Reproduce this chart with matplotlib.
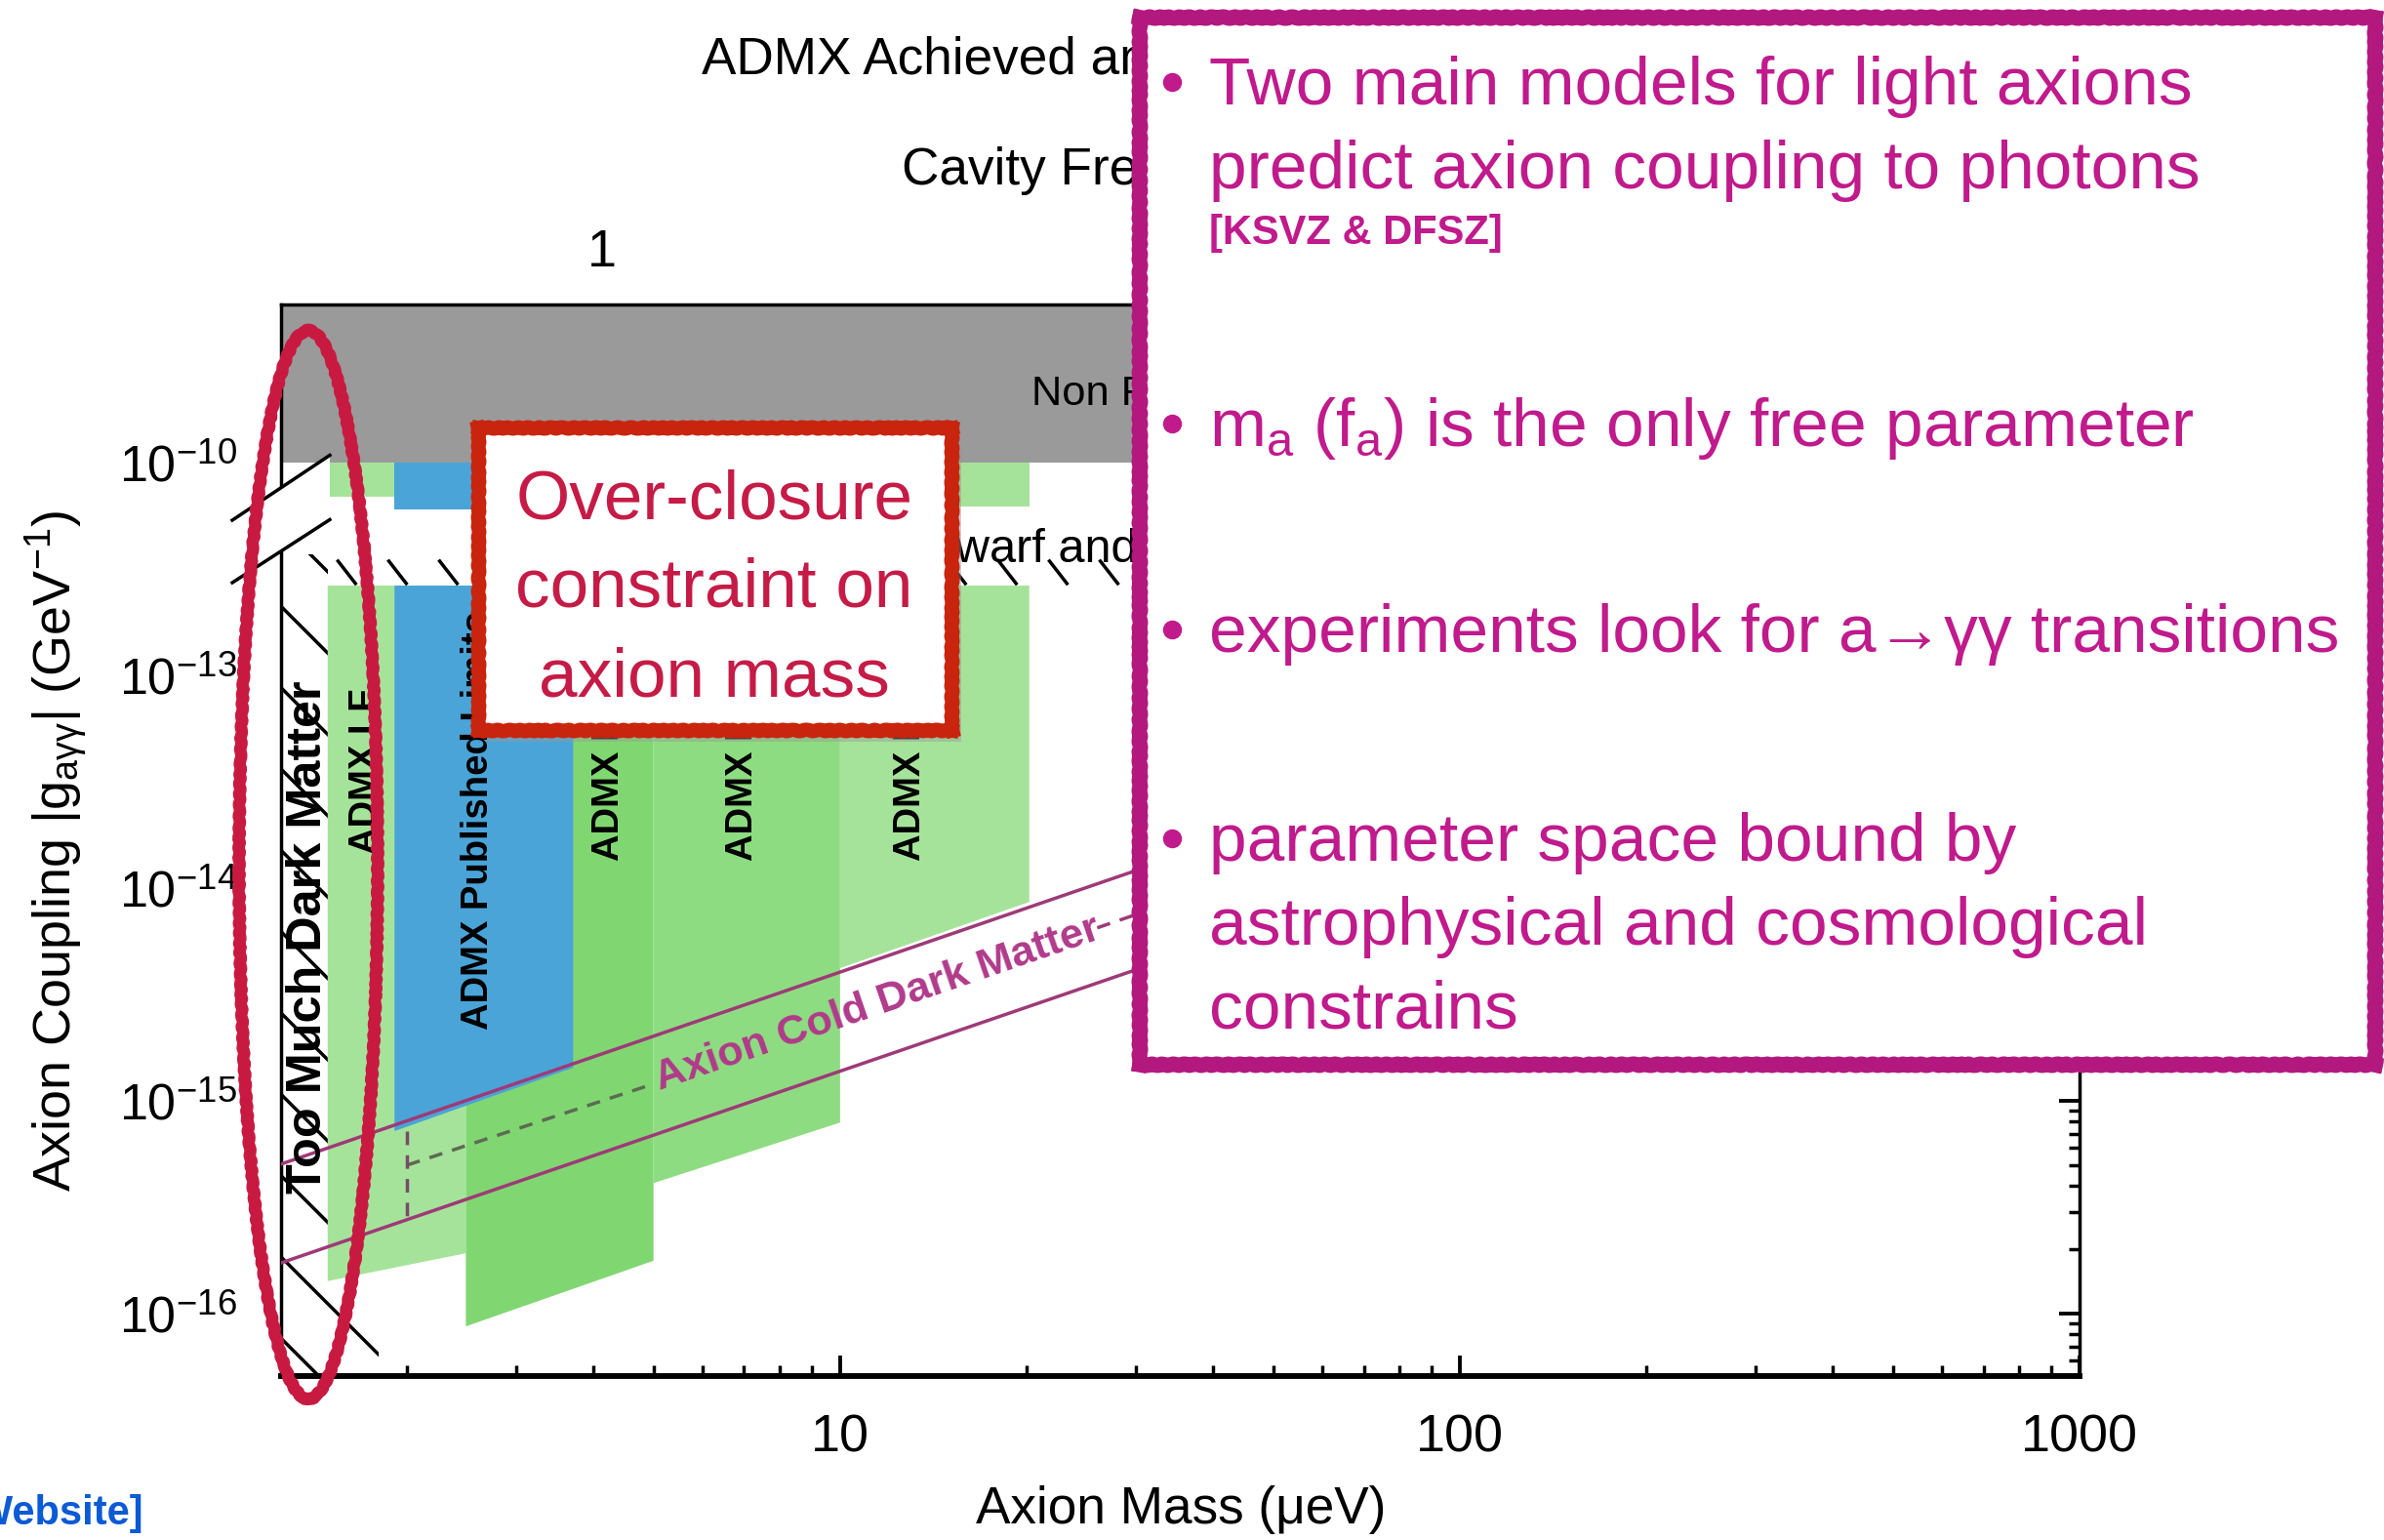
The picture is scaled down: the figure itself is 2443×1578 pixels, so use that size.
import numpy as np
import matplotlib.pyplot as plt
from matplotlib.patches import Rectangle, Ellipse, Polygon
from matplotlib.lines import Line2D
from matplotlib.ticker import FixedLocator, FixedFormatter, FuncFormatter, NullFormatter, LogLocator

plt.rcParams['font.family'] = ['Liberation Sans', 'DejaVu Sans']
plt.rcParams['mathtext.fontset'] = 'custom'
plt.rcParams['mathtext.rm'] = 'Liberation Sans'
plt.rcParams['mathtext.it'] = 'Liberation Sans:italic'
plt.rcParams['mathtext.bf'] = 'Liberation Sans:bold'
plt.rcParams['hatch.linewidth'] = 1.0

# ---- data (mass in ueV, coupling in GeV^-1) ----
mass_lim = [1.253, 1000]
band_names = ["ADMX LF", "ADMX Run 1B", "ADMX Run 1C", "ADMX Run 1D", "ADMX Published Limits"]
band_m_lo = [1.49, 2.49, 5.0, 10.0, 1.91]
band_m_hi = [2.49, 5.0, 10.0, 20.2, 3.71]
band_g_top = [2.64e-13, 2.64e-13, 2.64e-13, 2.64e-13, 2.64e-13]
band_g_bot_lo = [1.42e-16, 8.7e-17, 4.1e-16, 4.2e-15, 7.2e-16]
band_g_bot_hi = [1.92e-16, 1.77e-16, 7.9e-16, 8.6e-15, 1.43e-15]
# parts of the bands above the axis break
stub_g_top = [1.0e-10, 1.0e-10, 1.0e-10, 1.0e-10, 1.0e-10]
stub_g_bot = [6.9e-11, 6.2e-11, 6.2e-11, 6.2e-11, 6.0e-11]
label_m = [1.72, 4.24, 6.97, 13.0, 2.61]
label_g = [1.44e-14, 1.35e-14, 1.35e-14, 1.35e-14, 2.16e-15]

nonpert_g = [1.0e-10, 1.0e-7]
too_much_dm_m = [1.20, 1.80, 1.80, 1.49, 1.49, 1.20]
too_much_dm_g = [1e-17, 1e-17, 1.5e-16, 1.5e-16, 3.7e-13, 3.7e-13]
hb_limit_g = 2.64e-13

ksvz_m = [1.253, 40.0]
ksvz_g = [5.04e-16, 1.61e-14]
dfsz_m = [1.253, 40.0]
dfsz_g = [1.73e-16, 5.5e-15]
proj_m1 = [2.0, 5.0]
proj_g1 = [4.98e-16, 1.2e-15]
proj_m2 = [26.0, 40.0]
proj_g2 = [6.5e-15, 1.0e-14]
proj_vert_m = [2.0, 2.0]
proj_vert_g = [7.2e-16, 2.82e-16]
cdm_label_m = 11.5
cdm_label_g = 2.86e-15

ytick_exp = [-16, -15, -14, -13, -10]


def brk(g):
    # couplings above the axis break are drawn two decades lower
    g = np.asarray(g, dtype=float)
    return np.where(g >= 1e-11, g / 100.0, g)


W, H, DPI = 2443, 1578, 250
fig = plt.figure(figsize=(W / DPI, H / DPI), dpi=DPI)
ax = fig.add_axes([288 / W, (H - 1410) / H, (2131 - 288) / W, (1410 - 312) / H])
ax.set_xscale('log')
ax.set_yscale('log')
ax.set_xlim(mass_lim)
ax.set_ylim(10 ** -16.294, 10 ** -11.257)

band_colors = ['#a6e39a', '#80d771', '#8edc81', '#a6e39a', '#4aa4d7']

# too much dark matter hatch
ax.fill(too_much_dm_m, too_much_dm_g, facecolor='none', edgecolor='black',
        hatch='\\', linewidth=0, zorder=1)

# gray non perturbative region
ax.fill([0.5, 2000, 2000, 0.5], brk([nonpert_g[0]] * 2 + [nonpert_g[1]] * 2),
        color='#9a9a9a', linewidth=0, zorder=2)

for i in range(len(band_names)):
    xs = [band_m_lo[i], band_m_hi[i], band_m_hi[i], band_m_lo[i]]
    ys = [band_g_bot_lo[i], band_g_bot_hi[i], band_g_top[i], band_g_top[i]]
    ax.fill(xs, brk(ys), color=band_colors[i], linewidth=0, zorder=3)
    ax.fill(xs, brk([stub_g_bot[i], stub_g_bot[i], stub_g_top[i], stub_g_top[i]]),
            color=band_colors[i], linewidth=0, zorder=3)
    ax.text(label_m[i], label_g[i], band_names[i], rotation=90, ha='center', va='bottom',
            fontsize=11, fontweight='bold', color='black', zorder=6)

ax.text(1.387, 3.66e-16, 'Too Much Dark Matter', rotation=90, ha='center', va='bottom',
        fontsize=14.5, fontweight='bold', color='black', zorder=6)

# horizontal branch / white dwarf limit ticks along the top of the bands
for lm in np.arange(0.19, 1.6, 0.082):
    ax.plot([10 ** lm, 10 ** (lm + 0.028)], [hb_limit_g * 10 ** 0.115, hb_limit_g * 10 ** 0.01],
            color='black', lw=1.0, zorder=4)

ax.text(20.4, brk(1.86e-10), 'Non Perturbative', fontsize=12.5, ha='left', va='baseline', zorder=6)
ax.text(8.2, 3.4e-13, 'White Dwarf and Red Giant', fontsize=14, ha='left', va='baseline', zorder=6)

# axion dark matter models
line_col = '#9e3a78'
ax.plot(ksvz_m, ksvz_g, color=line_col, lw=1.0, zorder=5)
ax.plot(dfsz_m, dfsz_g, color=line_col, lw=1.0, zorder=5)
ax.plot(proj_m1, proj_g1, color='#5d6b52', lw=1.0, ls=(0, (4, 3)), zorder=5)
ax.plot(proj_m2, proj_g2, color='#9e3a78', lw=1.0, ls=(0, (4, 3)), zorder=5)
ax.plot(proj_vert_m, proj_vert_g, color='#7a4a6a', lw=1.0, ls=(0, (4, 3)), zorder=5)

p1 = ax.transData.transform((ksvz_m[0], ksvz_g[0]))
p2 = ax.transData.transform((ksvz_m[1], ksvz_g[1]))
ang = np.degrees(np.arctan2(p2[1] - p1[1], p2[0] - p1[0]))
ax.text(cdm_label_m, cdm_label_g, 'Axion Cold Dark Matter', rotation=ang, rotation_mode='anchor',
        ha='center', va='center', fontsize=12.5, fontweight='bold', color='#b13a8b', zorder=6)

# axes styling
for side in ['left', 'right', 'top']:
    ax.spines[side].set_linewidth(1.0)
ax.spines['bottom'].set_linewidth(1.7)
ax.tick_params(axis='both', which='both', direction='in', top=False, left=False, right=True)
ax.tick_params(axis='x', labelsize=15.5)
ax.tick_params(axis='y', labelsize=15)
ax.tick_params(axis='both', which='major', length=6, width=1.1)
ax.tick_params(axis='both', which='minor', length=3.2, width=1.0)
ax.tick_params(axis='x', which='major', pad=11)
ax.tick_params(axis='y', which='major', pad=13)
ax.xaxis.set_major_formatter(FuncFormatter(lambda v, _: f'{v:g}'))
ax.xaxis.set_minor_formatter(NullFormatter())
ax.yaxis.set_major_locator(FixedLocator(brk([10.0 ** e for e in ytick_exp])))
ax.yaxis.set_major_formatter(FixedFormatter([r'10$^{\mathregular{%d}}$' % e for e in ytick_exp]))
ax.yaxis.set_minor_locator(LogLocator(subs=np.arange(2, 10)))
ax.yaxis.set_minor_formatter(NullFormatter())

sec = ax.secondary_xaxis('top', functions=(lambda m: m / 4.1357, lambda f: f * 4.1357))
sec.tick_params(which='both', length=0, labelsize=15.5, pad=8)
sec.xaxis.set_major_formatter(FuncFormatter(lambda v, _: f'{v:g}'))
sec.xaxis.set_minor_formatter(NullFormatter())

# axis break marks
brk_poly = Polygon([(-0.0271, 0.7987), (0.0271, 0.8593), (0.0271, 0.7992), (-0.0271, 0.7404)],
                   closed=True, transform=ax.transAxes, facecolor='white', edgecolor='none',
                   clip_on=False, zorder=7)
ax.add_patch(brk_poly)
ax.plot([-0.0271, 0.0271], [0.7987, 0.8593], transform=ax.transAxes, color='black', lw=1.0,
        clip_on=False, zorder=8)
ax.plot([-0.0271, 0.0271], [0.7404, 0.7992], transform=ax.transAxes, color='black', lw=1.0,
        clip_on=False, zorder=8)

# titles / labels
cx = (288 + 2131) / 2 / W
fig.text(cx, 1 - 62 / H, 'ADMX Achieved and Projected Sensitivity', ha='center', va='center',
         fontsize=15.3, zorder=2)
fig.text(cx, 1 - 175 / H, 'Cavity Frequency (GHz)', ha='center', va='center', fontsize=15.3, zorder=2)
fig.text(1210 / W, 1 - 1547 / H, 'Axion Mass (\u03bceV)', ha='center', va='center', fontsize=15.3)
fig.text(59 / W, 1 - 872 / H, r'Axion Coupling |g$_{\mathregular{a\gamma\gamma}}$| (GeV$^{\mathregular{-1}}$)',
         rotation=90, ha='center', va='center', fontsize=15.5)
fig.text(147 / W, 1 - 1562 / H, '[ADMX Website]', ha='right', va='baseline', fontsize=12,
         fontweight='bold', color='#0b5ad6')

# ---- slide overlays ----
sk = dict(scale=0.7, length=12, randomness=2)


def rough_box(x0, y0, x1, y1, color, lw, z):
    # white box with a hand drawn looking border, corners in figure pixels from top-left
    fig.add_artist(Rectangle((x0 / W, 1 - y1 / H), (x1 - x0) / W, (y1 - y0) / H,
                             transform=fig.transFigure, facecolor='white', edgecolor='none', zorder=z))
    sides = [((x0, y0), (x1, y0)), ((x1, y0), (x1, y1)), ((x1, y1), (x0, y1)), ((x0, y1), (x0, y0))]
    for (xa, ya), (xb, yb) in sides:
        edge = Line2D([xa / W, xb / W], [1 - ya / H, 1 - yb / H], color=color, lw=lw,
                      transform=fig.transFigure, zorder=z + 0.1, solid_capstyle='projecting')
        edge.set_sketch_params(**sk)
        fig.add_artist(edge)


ell = Ellipse((316 / W, 1 - 886 / H), 142 / W, 1095 / H, transform=fig.transFigure,
              fill=False, edgecolor='#c81a41', lw=3.6, zorder=5)
ell.set_sketch_params(**sk)
fig.add_artist(ell)

shadow = Rectangle(((490 + 10) / W, 1 - (748 + 12) / H), 485 / W, 310 / H, transform=fig.transFigure,
                   facecolor='#999999', edgecolor='none', alpha=0.45, zorder=4.9)
fig.add_artist(shadow)
rough_box(490, 438, 975, 748, '#c9240e', 4.2, 5)
for txt, base in zip(['Over-closure', 'constraint on', 'axion mass'], [532, 622, 714]):
    fig.text(732 / W, 1 - base / H, txt, ha='center', va='baseline', fontsize=20.5,
             color='#c51b46', zorder=6)

rough_box(1168, 18, 2434, 1091, '#b3187f', 4.5, 5)

mag = '#c01a8c'
bullet_lines = [
    ('Two main models for light axions', 107, 20, 'normal'),
    ('predict axion coupling to photons', 193, 20, 'normal'),
    ('[KSVZ & DFSZ]', 250, 12, 'bold'),
    (r'm$_{\mathregular{a}}$ (f$_{\mathregular{a}}$) is the only free parameter', 457, 20, 'normal'),
    ('experiments look for a\u2192\u03b3\u03b3 transitions', 668, 20, 'normal'),
    ('parameter space bound by', 882, 20, 'normal'),
    ('astrophysical and cosmological', 968, 20, 'normal'),
    ('constrains', 1054, 20, 'normal'),
]
for txt, base, fs, fw in bullet_lines:
    fig.text(1239 / W, 1 - base / H, txt, ha='left', va='baseline', fontsize=fs, fontweight=fw,
             color=mag, zorder=6)
for base in [107, 457, 668, 882]:
    fig.add_artist(Line2D([1201 / W], [1 - (base - 23) / H], marker='o', markersize=4.6,
                          color=mag, transform=fig.transFigure, zorder=6))

fig.savefig('out.png', dpi=DPI)
